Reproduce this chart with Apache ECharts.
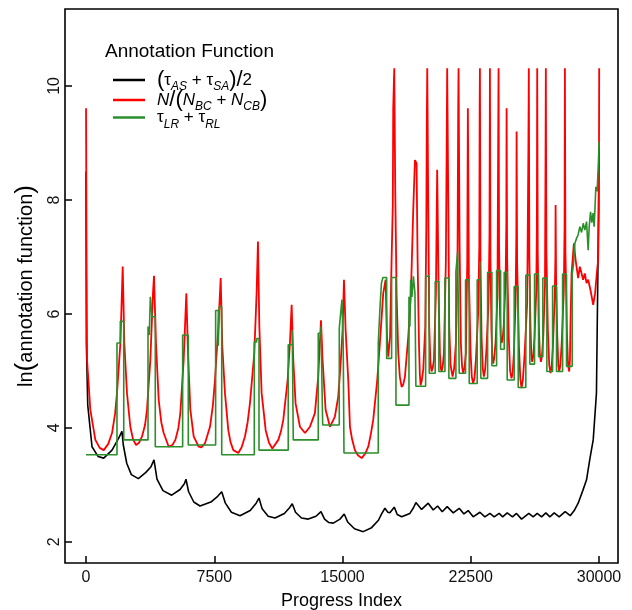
<!DOCTYPE html>
<html>
<head>
<meta charset="utf-8">
<script src="https://cdn.jsdelivr.net/npm/echarts@6/dist/echarts.min.js"></script>
<style>
  html, body { margin: 0; padding: 0; background: #fff; }
  #main { width: 632px; height: 610px; }
</style>
</head>
<body>
<div id="main"></div>
<script>
// tick positions
let xTicks = [0, 7500, 15000, 22500, 30000];
let yTicks = [2, 4, 6, 8, 10];

let seriesNames = ['tauAvg', 'nRatio', 'tauLR'];

// (tau_AS + tau_SA)/2
let blackData = [
    [0, 8.5], [20, 5.5], [100, 4.4], [350, 3.67], [700, 3.5], [1035, 3.47], [1520, 3.61],
    [1910, 3.82], [2100, 3.94], [2180, 3.7], [2380, 3.38], [2650, 3.18], [3060, 3.11],
    [3500, 3.22], [3800, 3.32], [3975, 3.44], [4150, 3.1], [4500, 2.9], [5010, 2.82],
    [5500, 2.92], [5750, 3.02], [5845, 3.1], [6000, 2.88], [6300, 2.7], [6665, 2.63],
    [7300, 2.7], [7700, 2.8], [7935, 2.88], [8150, 2.68], [8500, 2.52], [9005, 2.46],
    [9600, 2.55], [9950, 2.68], [10115, 2.77], [10300, 2.58], [10650, 2.45], [11050, 2.42],
    [11600, 2.5], [11900, 2.6], [12060, 2.67], [12250, 2.52], [12600, 2.42], [13000, 2.4],
    [13450, 2.45], [13740, 2.53], [13950, 2.4], [14200, 2.34], [14460, 2.33], [14850, 2.4],
    [15100, 2.49], [15300, 2.35], [15700, 2.23], [16210, 2.18], [16700, 2.25], [17100, 2.38],
    [17300, 2.5], [17480, 2.59], [17650, 2.52], [17770, 2.51], [18025, 2.61], [18200, 2.48],
    [18455, 2.44], [18940, 2.5], [19150, 2.6], [19290, 2.69], [19625, 2.57], [20010, 2.68],
    [20305, 2.56], [20560, 2.63], [20830, 2.53], [21120, 2.62], [21475, 2.51], [21825, 2.59],
    [22100, 2.49], [22350, 2.55], [22640, 2.44], [23035, 2.52], [23325, 2.44], [23620, 2.5],
    [23870, 2.44], [24160, 2.5], [24365, 2.44], [24630, 2.51], [24940, 2.44], [25175, 2.5],
    [25470, 2.4], [25895, 2.5], [26150, 2.44], [26385, 2.5], [26640, 2.44], [26890, 2.51],
    [27125, 2.44], [27380, 2.51], [27670, 2.44], [28020, 2.53], [28315, 2.46], [28550, 2.55],
    [28780, 2.68], [29050, 2.9], [29270, 3.09], [29460, 3.45], [29660, 3.79], [29850, 4.61],
    [29950, 7.18], [30000, 8.9]
];

// N/(N_BC + N_CB)
let redData = [
    [0, 9.61], [30, 6.95], [60, 5.19], [250, 4.32], [545, 3.79], [800, 3.65], [1035, 3.61],
    [1300, 3.72], [1520, 3.91], [1700, 4.25], [1810, 4.61], [2010, 5.49], [2145, 6.83],
    [2240, 5.49], [2395, 4.61], [2590, 4.02], [2750, 3.8], [2925, 3.7], [3100, 3.74],
    [3275, 3.85], [3450, 4.05], [3565, 4.32], [3760, 5.19], [3915, 6.36], [3975, 6.67],
    [4090, 5.49], [4250, 4.49], [4400, 4.1], [4540, 3.91], [4835, 3.67], [5050, 3.7],
    [5225, 3.79], [5400, 4.0], [5515, 4.26], [5710, 5.19], [5865, 6.36], [5965, 5.31],
    [6100, 4.32], [6295, 3.85], [6585, 3.67], [6750, 3.66], [6955, 3.73], [7250, 4.02],
    [7420, 4.4], [7540, 4.84], [7740, 5.78], [7875, 6.63], [7970, 5.43], [8125, 4.61],
    [8320, 3.96], [8450, 3.75], [8615, 3.61], [8905, 3.56], [9100, 3.66], [9295, 3.85],
    [9450, 4.1], [9585, 4.43], [9840, 5.31], [9975, 6.36], [10055, 7.27], [10135, 5.78],
    [10270, 4.61], [10505, 3.96], [10700, 3.74], [10895, 3.64], [11245, 3.79], [11400, 3.94],
    [11535, 4.14], [11790, 4.84], [11925, 5.49], [12025, 6.16], [12120, 5.19], [12255, 4.43],
    [12510, 4.02], [12805, 3.91], [13095, 4.02], [13385, 4.26], [13580, 4.9], [13740, 5.89],
    [13835, 5.19], [14010, 4.32], [14265, 4.02], [14555, 4.2], [14750, 4.55], [14890, 5.13],
    [15005, 5.72], [15085, 6.6], [15180, 5.72], [15335, 4.84], [15435, 4.02], [15560, 3.8],
    [15725, 3.61], [15900, 3.52], [16120, 3.47], [16330, 3.55], [16505, 3.67], [16660, 3.9],
    [16795, 4.14], [17030, 4.84], [17185, 5.49], [17380, 6.36], [17520, 6.6], [17600, 5.6],
    [17675, 5.25], [17780, 5.6], [17870, 6.95], [17940, 7.91], [17965, 9.61], [18025, 10.31],
    [18085, 8.12], [18160, 6.36], [18260, 5.31], [18350, 4.9], [18455, 4.72], [18550, 4.76],
    [18650, 4.9], [18845, 5.6], [19000, 6.36], [19135, 7.82], [19235, 8.7], [19330, 8.64],
    [19390, 6.95], [19470, 5.49], [19520, 4.95], [19565, 4.75], [19630, 4.82], [19720, 5.02],
    [19840, 5.78], [19900, 7.53], [19925, 9.2], [19955, 10.31], [20015, 7.82], [20070, 5.78],
    [20140, 5.15], [20205, 4.99], [20275, 5.05], [20345, 5.19], [20460, 6.36], [20535, 8.53],
    [20620, 6.36], [20695, 5.31], [20745, 5.05], [20795, 4.99], [20860, 5.08], [20930, 5.31],
    [21045, 6.95], [21090, 8.93], [21120, 10.31], [21180, 8.12], [21240, 5.78], [21320, 5.1],
    [21435, 4.9], [21530, 5.05], [21630, 5.49], [21725, 6.95], [21765, 9.61], [21785, 10.31],
    [21845, 7.24], [21920, 5.49], [21990, 5.08], [22055, 4.96], [22130, 5.05], [22215, 5.31],
    [22295, 6.95], [22330, 9.61], [22390, 6.65], [22490, 5.31], [22560, 4.9], [22640, 4.78],
    [22720, 4.88], [22800, 5.2], [22930, 6.0], [23000, 7.2], [23020, 9.61], [23035, 10.31],
    [23065, 7.0], [23130, 5.6], [23200, 5.05], [23265, 4.9], [23340, 5.02], [23420, 5.4],
    [23540, 6.2], [23595, 7.4], [23620, 10.31], [23650, 7.0], [23710, 5.7], [23760, 5.25],
    [23810, 5.13], [23870, 5.22], [23950, 5.5], [24060, 6.3], [24105, 9.2], [24125, 10.31],
    [24155, 7.2], [24210, 6.0], [24255, 5.6], [24300, 5.49], [24360, 5.55], [24430, 5.8],
    [24540, 6.6], [24580, 7.6], [24595, 9.61], [24625, 7.0], [24720, 5.6], [24800, 5.0],
    [24885, 4.87], [24950, 4.97], [25020, 5.3], [25120, 6.2], [25165, 7.4], [25180, 9.2],
    [25210, 6.9], [25320, 5.4], [25400, 4.85], [25470, 4.7], [25550, 4.85], [25650, 5.3],
    [25800, 6.2], [25870, 8.93], [25895, 10.31], [25925, 7.0], [25990, 5.8], [26040, 5.3],
    [26090, 5.16], [26150, 5.25], [26230, 5.6], [26330, 6.4], [26365, 7.5], [26385, 10.31],
    [26415, 7.1], [26480, 5.8], [26540, 5.3], [26600, 5.16], [26660, 5.25], [26740, 5.6],
    [26840, 6.5], [26875, 8.93], [26890, 10.31], [26920, 7.1], [27010, 5.7], [27090, 5.1],
    [27165, 4.96], [27230, 5.08], [27300, 5.4], [27410, 6.3], [27450, 7.0], [27460, 7.91],
    [27490, 6.6], [27560, 5.6], [27620, 5.1], [27670, 4.99], [27740, 5.1], [27820, 5.5],
    [27940, 6.4], [27985, 7.5], [28005, 10.31], [28035, 7.1], [28120, 5.7], [28190, 5.1],
    [28255, 4.99], [28300, 5.2], [28330, 5.8], [28395, 6.71], [28530, 7.24], [28630, 6.95],
    [28780, 6.63], [28880, 6.83], [29070, 6.6], [29170, 6.71], [29270, 6.54], [29365, 6.6],
    [29500, 6.42], [29660, 6.16], [29770, 6.36], [29870, 6.71], [29950, 6.95], [29990, 7.82],
    [30010, 10.31]
];

// tau_LR + tau_RL (step levels, each starts at x)
let greenData = [
    [0, 3.53], [1810, 5.49], [2005, 5.87], [2205, 3.79], [3625, 5.78], [3700, 5.63],
    [3760, 6.3], [3860, 5.95], [4050, 3.67], [5650, 5.63], [5980, 3.7], [7580, 6.06],
    [7735, 5.44], [7795, 6.13], [7935, 3.53], [9840, 5.51], [9980, 5.57], [10115, 3.61],
    [11825, 5.46], [12060, 5.71], [12120, 3.79], [13580, 5.66], [13740, 5.78], [13840, 4.05],
    [14810, 5.75], [14890, 6.01], [14965, 6.25], [15040, 5.49], [15085, 3.56], [17090, 5.49],
    [17190, 6.1], [17275, 6.54], [17365, 6.64], [17580, 5.22], [17870, 6.64], [18125, 4.4],
    [18885, 6.3], [18940, 5.78], [18985, 6.6], [19060, 6.3], [19145, 6.66], [19235, 6.36],
    [19290, 4.73], [19860, 6.66], [20070, 4.96], [20420, 6.57], [20635, 4.99], [20990, 6.63],
    [21220, 4.87], [21630, 6.74], [21730, 7.09], [21825, 4.96], [22195, 6.6], [22410, 4.78],
    [22875, 6.6], [23030, 6.92], [23090, 4.87], [23485, 6.73], [23735, 5.09], [24010, 6.76],
    [24245, 5.38], [24455, 6.73], [24630, 4.84], [25040, 6.48], [25275, 4.71], [25720, 6.68],
    [25955, 5.12], [26230, 6.7], [26465, 5.25], [26715, 6.63], [26950, 4.99], [27285, 6.49],
    [27515, 4.99], [27870, 6.7], [28100, 5.08], [28430, 6.7], [28500, 6.85], [28590, 7.24],
    [28690, 7.33], [28780, 7.39], [28880, 7.53], [28980, 7.43], [29075, 7.59], [29170, 7.47],
    [29270, 7.62], [29365, 7.12], [29425, 7.53], [29505, 7.79], [29580, 7.6], [29655, 7.77],
    [29715, 7.53], [29775, 7.94], [29815, 8.23], [29890, 8.15], [29970, 8.7], [30000, 9.02]
];

let myChart = echarts.init(document.getElementById('main'));

let font = '"Liberation Sans", Arial, sans-serif';

let richStyles = {
    n: { fontSize: 17, lineHeight: 26, fontFamily: font, color: '#000' },
    i: { fontSize: 17, lineHeight: 26, fontFamily: font, color: '#000', fontStyle: 'italic' },
    b: { fontSize: 22, lineHeight: 26, fontFamily: font, color: '#000' },
    si: { fontSize: 12, lineHeight: 26, fontFamily: font, color: '#000', fontStyle: 'italic', verticalAlign: 'bottom' }
};

let legendText = {
    tauAvg: '{b|(}{n|τ}{si|AS}{n| + τ}{si|SA}{b|)/}{n|2}',
    nRatio: '{i|N}{b|/(}{i|N}{si|BC}{n| + }{i|N}{si|CB}{b|)}',
    tauLR: '{n|τ}{si|LR}{n| + τ}{si|RL}'
};

function makeLegend(name, top) {
    return {
        data: [name],
        left: 113,
        top: top,
        padding: 0,
        icon: 'rect',
        itemWidth: 32,
        itemHeight: 2.5,
        selectedMode: false,
        formatter: function (n) { return legendText[n]; },
        textStyle: { padding: [0, 0, 0, 7], rich: richStyles }
    };
}

let option = {
    animation: false,
    backgroundColor: '#fff',
    title: {
        text: 'Annotation Function',
        left: 105,
        top: 42,
        padding: 0,
        textStyle: { fontSize: 19, fontWeight: 'normal', color: '#000', fontFamily: font }
    },
    legend: [
        makeLegend('tauAvg', 69),
        makeLegend('nRatio', 89),
        makeLegend('tauLR', 109)
    ],
    grid: {
        left: 65, right: 14, top: 9, bottom: 47,
        outerBoundsMode: 'none',
        containLabel: false,
        show: true, borderColor: '#000', borderWidth: 1.6
    },
    xAxis: {
        type: 'value',
        min: -1230,
        max: 31110,
        name: 'Progress Index',
        nameLocation: 'middle',
        nameGap: 29,
        nameTextStyle: { fontSize: 18, color: '#000', fontFamily: font },
        axisLine: { show: false, onZero: false },
        splitLine: { show: false },
        axisTick: { show: true, inside: true, length: 7, lineStyle: { color: '#000', width: 1.5 }, customValues: xTicks },
        axisLabel: {
            margin: 7, fontSize: 16, color: '#111', fontFamily: font, customValues: xTicks,
            formatter: function (v) { return String(v); }
        }
    },
    yAxis: {
        type: 'value',
        min: 1.63,
        max: 11.35,
        name: '{t|ln}{p|(}{t|annotation function}{p|)}',
        nameLocation: 'middle',
        nameGap: 9,
        nameTextStyle: {
            color: '#000', fontFamily: font,
            rich: {
                t: { fontSize: 20, fontFamily: font, color: '#000' },
                p: { fontSize: 26, fontFamily: font, color: '#000' }
            }
        },
        axisLine: { show: false, onZero: false },
        splitLine: { show: false },
        axisTick: { show: true, inside: true, length: 7, lineStyle: { color: '#000', width: 1.5 }, customValues: yTicks },
        axisLabel: { margin: 2, rotate: 90, fontSize: 16, color: '#111', fontFamily: font, customValues: yTicks }
    },
    series: [
        {
            name: 'tauAvg', type: 'line', data: blackData, symbol: 'none',
            color: '#000', lineStyle: { width: 1.6, color: '#000' }
        },
        {
            name: 'nRatio', type: 'line', data: redData, symbol: 'none',
            color: '#ff0000', lineStyle: { width: 1.8, color: '#ff0000' }
        },
        {
            name: 'tauLR', type: 'line', data: greenData, symbol: 'none', step: 'end',
            color: '#2b8f2b', lineStyle: { width: 1.6, color: '#2b8f2b' }
        }
    ]
};

myChart.setOption(option);
</script>
</body>
</html>
